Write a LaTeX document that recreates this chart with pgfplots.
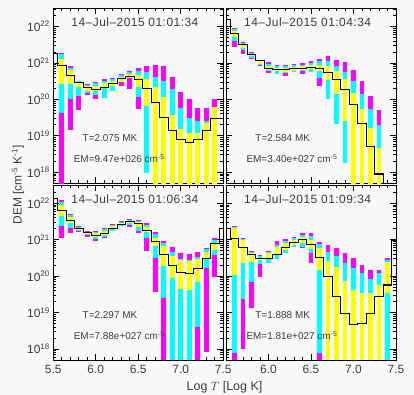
\documentclass[border=0pt]{standalone}
\usepackage{fontspec}
\setmainfont{Liberation Sans}
\newfontfamily\titlefont[LetterSpace=4]{Liberation Sans}
\usepackage{pgfplots}
\pgfplotsset{compat=1.18}
\usepackage{pgfplotstable}

\definecolor{bgc}{RGB}{248,248,248}
\definecolor{mag}{RGB}{255,0,255}
\definecolor{cya}{RGB}{0,255,255}
\definecolor{yel}{RGB}{255,255,0}
\definecolor{txt}{RGB}{60,60,60}

% log10 DEM ranges: magenta (outer), cyan, yellow (inner)
\pgfplotstableread{
x mlo clo ylo yhi chi mhi
5.6 17.0 19.619 20.425 21.112 21.231 21.267
5.7 19.161 20.013 20.425 20.791 20.864 20.901
5.8 19.711 20.104 20.333 20.443 20.489 20.516
5.9 20.123 20.187 20.242 20.352 20.388 20.425
6.0 20.004 20.123 20.242 20.370 20.443 20.480
6.1 20.049 20.049 20.306 20.443 20.507 20.562
6.2 20.242 20.242 20.370 20.507 20.553 20.590
6.3 20.370 20.480 20.480 20.608 20.663 20.700
6.4 20.288 20.581 20.581 20.691 20.736 20.782
6.5 19.729 20.077 20.333 20.672 20.764 20.855
6.6 17.971 17.971 19.820 20.553 20.736 20.901
6.7 17.0 17.0 17.0 20.333 20.626 20.947
6.8 17.0 17.0 17.0 20.059 20.489 20.901
6.9 17.0 17.0 17.0 19.573 20.288 20.599
7.0 17.0 17.0 17.0 19.189 19.775 20.214
7.1 17.0 17.0 17.0 19.088 19.500 20.004
7.2 17.0 17.0 17.0 19.088 19.418 19.756
7.3 17.0 17.0 17.0 19.363 19.400 19.756
7.4 17.0 17.0 17.0 19.784 19.800 20.004
}\binsA
\pgfplotstableread{
x y
5.5 21.249
5.6 20.929
5.7 20.663
5.8 20.462
5.9 20.324
6.0 20.260
6.1 20.333
6.2 20.443
6.3 20.562
6.4 20.626
6.5 20.553
6.6 20.306
6.7 19.921
6.8 19.509
6.9 19.143
7.0 18.905
7.1 18.822
7.2 18.905
7.3 19.155
7.4 19.482
7.5 19.482
}\stepA

\pgfplotstableread{
x mlo clo ylo yhi chi mhi
5.6 21.423 21.606 21.698 21.881 21.927 21.945
5.7 21.249 21.359 21.405 21.496 21.542 21.579
5.8 21.103 21.139 21.176 21.240 21.267 21.286
5.9 20.919 20.947 20.974 21.038 21.066 21.084
6.0 20.718 20.764 20.810 20.901 20.965 21.011
6.1 20.700 20.700 20.764 20.855 20.901 20.947
6.2 20.645 20.718 20.736 20.855 20.901 20.947
6.3 20.736 20.736 20.782 20.883 20.929 20.965
6.4 20.700 20.764 20.810 20.901 20.947 20.993
6.5 20.755 20.755 20.828 20.938 20.993 21.038
6.6 20.352 20.581 20.764 20.947 21.038 21.103
6.7 20.013 20.013 20.535 20.901 21.038 21.176
6.8 19.326 19.326 20.141 20.764 20.901 21.084
6.9 18.245 18.245 19.408 20.562 20.736 21.011
7.0 17.0 17.0 17.0 20.168 20.507 20.810
7.1 17.0 17.0 17.0 19.738 20.150 20.507
7.2 17.0 17.0 17.0 19.225 19.738 20.095
7.3 17.0 17.0 17.0 18.676 19.289 19.711
}\binsB
\pgfplotstableread{
x y
5.5 22.201
5.6 21.817
5.7 21.496
5.8 21.222
5.9 21.057
6.0 20.855
6.1 20.810
6.2 20.810
6.3 20.837
6.4 20.855
6.5 20.874
6.6 20.855
6.7 20.736
6.8 20.553
6.9 20.278
7.0 19.866
7.1 19.344
7.2 18.703
7.3 17.952
7.4 17.0
7.5 17.0
}\stepB

\pgfplotstableread{
x mlo clo ylo yhi chi mhi
5.6 21.038 21.377 21.652 21.954 22.046 22.092
5.7 21.194 21.332 21.451 21.615 21.670 21.707
5.8 21.222 21.249 21.267 21.332 21.359 21.386
5.9 21.084 21.130 21.148 21.194 21.222 21.240
6.0 20.974 21.020 21.084 21.194 21.222 21.249
6.1 21.057 21.084 21.130 21.249 21.286 21.313
6.2 21.240 21.240 21.286 21.377 21.405 21.432
6.3 21.377 21.377 21.405 21.469 21.496 21.524
6.4 21.359 21.405 21.451 21.505 21.533 21.560
6.5 21.194 21.249 21.341 21.478 21.515 21.542
6.6 20.700 21.038 21.222 21.341 21.405 21.451
6.7 19.573 20.489 20.828 21.057 21.148 21.222
6.8 17.0 19.390 20.278 20.837 20.901 20.965
6.9 17.0 17.0 19.940 20.553 20.672 20.810
7.0 17.0 17.0 19.650 20.430 20.470 20.645
7.1 17.0 17.0 19.620 20.410 20.430 20.610
7.2 17.0 18.612 19.848 20.462 20.516 20.672
7.3 17.925 20.214 20.489 20.672 20.736 20.764
7.4 19.985 20.581 20.718 20.901 20.993 21.038
}\binsC
\pgfplotstableread{
x y
5.5 22.137
5.6 21.799
5.7 21.524
5.8 21.313
5.9 21.194
6.0 21.112
6.1 21.176
6.2 21.313
6.3 21.423
6.4 21.487
6.5 21.451
6.6 21.250
6.7 20.940
6.8 20.605
6.9 20.300
7.0 20.100
7.1 20.070
7.2 20.200
7.3 20.490
7.4 20.900
7.5 21.310
}\stepC

\pgfplotstableread{
x mlo clo ylo yhi chi mhi
5.6 17.0 17.879 20.031 21.332 21.359 21.377
5.7 17.989 19.363 20.352 20.993 21.020 21.038
5.8 19.115 19.848 20.397 20.645 20.672 20.690
5.9 19.985 20.333 20.443 20.507 20.553 20.581
6.0 20.352 20.352 20.462 20.626 20.663 20.690
6.1 20.471 20.471 20.581 20.791 20.855 20.965
6.2 20.626 20.626 20.718 20.919 20.974 21.011
6.3 20.810 20.810 20.855 20.993 21.038 21.084
6.4 20.764 20.810 20.901 21.084 21.130 21.176
6.5 20.352 20.626 20.736 20.993 21.103 21.176
6.6 17.0 17.879 20.168 20.764 20.874 20.929
6.7 17.0 17.0 17.0 20.416 20.672 20.855
6.8 17.0 17.0 17.0 20.260 20.553 20.782
6.9 17.0 17.0 17.0 19.875 20.370 20.626
7.0 17.0 17.0 17.0 19.619 20.214 20.489
7.1 17.0 17.0 17.0 19.527 20.077 20.306
7.2 17.0 17.0 17.0 19.527 19.921 20.168
7.3 17.0 17.0 17.0 19.756 20.095 20.168
7.4 17.0 17.0 19.527 20.397 20.443 20.489
}\binsD
\pgfplotstableread{
x y
5.5 21.313
5.6 21.038
5.7 20.791
5.8 20.599
5.9 20.489
6.0 20.489
6.1 20.599
6.2 20.791
6.3 20.919
6.4 21.011
6.5 20.874
6.6 20.507
6.7 19.985
6.8 19.436
6.9 18.978
7.0 18.676
7.1 18.703
7.2 18.978
7.3 19.436
7.4 19.756
7.5 20.974
}\stepD

\pgfplotsset{
  demaxis/.style={
    scale only axis, width=170bp, height=175bp, anchor=south west,
    xmin=5.5, xmax=7.5, ymin=17.699, ymax=22.5,
    xtick={5.5,6.0,6.5,7.0,7.5}, minor x tick num=4,
    ytick={18,19,20,21,22},
    minor ytick={17.778,17.845,17.903,17.954,
      18.301,18.477,18.602,18.699,18.778,18.845,18.903,18.954,
      19.301,19.477,19.602,19.699,19.778,19.845,19.903,19.954,
      20.301,20.477,20.602,20.699,20.778,20.845,20.903,20.954,
      21.301,21.477,21.602,21.699,21.778,21.845,21.903,21.954,
      22.301,22.477},
    tick align=inside,
    major tick length=6bp, minor tick length=3bp,
    every tick/.style={black, line width=0.7bp},
    axis line style={black, line width=0.9bp},
    xticklabels={}, yticklabels={},
    tick label style={font=\fontsize{12}{14}\selectfont, text=txt},
    xticklabel style={yshift=-2bp},
    axis background/.style={fill=bgc},
    clip=true,
  },
  ylabs/.style={yticklabels={10\textsuperscript{18},10\textsuperscript{19},10\textsuperscript{20},10\textsuperscript{21},10\textsuperscript{22}}},
  ebar/.style={draw=none, mark=none, forget plot,
    error bars/.cd, y dir=both, y explicit, error mark=none,
    error bar style={line width=4.8bp, draw=#1, solid}},
  steps/.style={const plot mark mid, black, line width=1.1bp, mark=none, forget plot},
}
\newcommand{\bars}[1]{%
  \addplot[ebar=mag] table[x=x, y expr={0.5*(\thisrow{mlo}+\thisrow{mhi})}, y error expr={0.5*(\thisrow{mhi}-\thisrow{mlo})}] {#1};
  \addplot[ebar=cya] table[x=x, y expr={0.5*(\thisrow{clo}+\thisrow{chi})}, y error expr={0.5*(\thisrow{chi}-\thisrow{clo})}] {#1};
  \addplot[ebar=yel] table[x=x, y expr={0.5*(\thisrow{ylo}+\thisrow{yhi})}, y error expr={0.5*(\thisrow{yhi}-\thisrow{ylo})}] {#1};
}
\newcommand{\labels}[3]{%
  \node[font=\titlefont\fontsize{12}{14}\selectfont, text=txt] at (axis cs:6.46,22.12) {#1};
  \node[anchor=west, font=\fontsize{10}{12}\selectfont, text=txt] at (axis cs:5.805,18.93) {#2};
  \node[anchor=west, font=\fontsize{10}{12}\selectfont, text=txt] at (axis cs:5.70,18.37) {#3};
}

\begin{document}
\begin{tikzpicture}
\fill[bgc] (0,0) rectangle (414bp,395bp);

\begin{axis}[demaxis, at={(53.3bp,211.8bp)}, ylabs]
\bars{\binsA}
\addplot[steps] table[x=x,y=y] {\stepA};
\labels{14\textendash Jul\textendash 2015 01:01:34}{T=2.075 MK}{EM=9.47e+026 cm\textsuperscript{-5}}
\end{axis}

\begin{axis}[demaxis, at={(226bp,211.8bp)}]
\bars{\binsB}
\addplot[steps] table[x=x,y=y] {\stepB};
\labels{14\textendash Jul\textendash 2015 01:04:34}{T=2.584 MK}{EM=3.40e+027 cm\textsuperscript{-5}}
\end{axis}

\begin{axis}[demaxis, at={(53.3bp,35bp)}, ylabs,
  xticklabels={5.5,6.0,6.5,7.0,7.5}]
\bars{\binsC}
\addplot[steps] table[x=x,y=y] {\stepC};
\labels{14\textendash Jul\textendash 2015 01:06:34}{T=2.297 MK}{EM=7.88e+027 cm\textsuperscript{-5}}
\end{axis}

\begin{axis}[demaxis, at={(226bp,35bp)}, xticklabels={,6.0,6.5,7.0,7.5}]
\bars{\binsD}
\addplot[steps] table[x=x,y=y] {\stepD};
\labels{14\textendash Jul\textendash 2015 01:09:34}{T=1.888 MK}{EM=1.81e+027 cm\textsuperscript{-5}}
\end{axis}

\node[rotate=90, font=\fontsize{12}{14}\selectfont, text=txt] at (18bp,210bp) {DEM [cm\textsuperscript{-5} K\textsuperscript{-1}]};
\node[font=\fontsize{12.5}{14}\selectfont, text=txt] at (224.5bp,8bp) {Log $T$ [Log K]};

\pgfresetboundingbox
\useasboundingbox (0,0) rectangle (414bp,395bp);
\end{tikzpicture}
\end{document}
